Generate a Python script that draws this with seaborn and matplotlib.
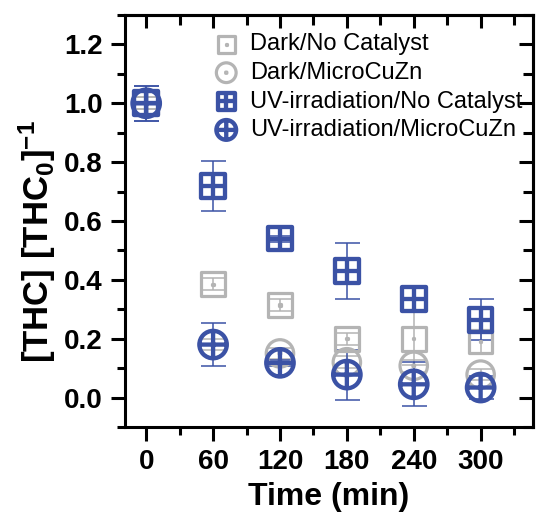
import numpy as np
import pandas as pd
import seaborn as sns
import matplotlib.pyplot as plt
from matplotlib.path import Path
from matplotlib.ticker import MultipleLocator

# ── data ──────────────────────────────────────────────────────────────────
time = [0, 60, 120, 180, 240, 300]

dark_nc = [1.00, 0.385, 0.315, 0.200, 0.200, 0.190]
dark_nc_err = [0.02, 0.02, 0.02, 0.02, 0.09, 0.04]

dark_cat = [1.00, 0.180, 0.150, 0.120, 0.108, 0.078]
dark_cat_err = [0.02, 0.02, 0.02, 0.02, 0.02, 0.02]

uv_nc = [1.00, 0.720, 0.540, 0.430, 0.335, 0.264]
uv_nc_err = [0.06, 0.085, 0.01, 0.095, 0.04, 0.07]

uv_cat = [1.00, 0.180, 0.118, 0.078, 0.045, 0.034]
uv_cat_err = [0.06, 0.072, 0.01, 0.085, 0.075, 0.04]

labels = ["Dark/No Catalyst", "Dark/MicroCuZn",
          "UV-irradiation/No Catalyst", "UV-irradiation/MicroCuZn"]

BLUE = "#3B52A5"
GRAY = "#B4B4B4"

# ── marker shapes (square / circle with a dot or a cross) ─────────────────
M, L = Path.MOVETO, Path.LINETO
square = Path([(-1, -1), (1, -1), (1, 1), (-1, 1), (-1, -1)], [M, L, L, L, Path.CLOSEPOLY])
cross = Path([(-1, 0), (1, 0), (0, -1), (0, 1)], [M, L, M, L])
d = 0.06
dot = Path([(-d, -d), (d, -d), (d, d), (-d, d), (-d, -d)], [M, L, L, L, Path.CLOSEPOLY])
circle = Path.unit_circle()

sq_dot = Path.make_compound_path(square, dot)
ci_dot = Path.make_compound_path(circle, dot)
sq_cross = Path.make_compound_path(square, cross)
ci_cross = Path.make_compound_path(circle, cross)

sns.set_style("ticks")
plt.rcParams['font.family'] = ['Liberation Sans', 'DejaVu Sans']
plt.rcParams['mathtext.fontset'] = 'custom'
plt.rcParams['mathtext.rm'] = 'Liberation Sans:bold'
plt.rcParams['mathtext.bf'] = 'Liberation Sans:bold'
plt.rcParams['mathtext.default'] = 'bf'
for k in ['text.color', 'axes.labelcolor', 'xtick.color', 'ytick.color', 'axes.edgecolor']:
    plt.rcParams[k] = 'black'

fig = plt.figure(figsize=(5.37, 5.19), dpi=100)
ax = fig.add_axes([0.2328, 0.1773, 0.7598, 0.7938])

series = [
    (dark_nc, dark_nc_err, sq_dot, GRAY, 290, 2.3),
    (dark_cat, dark_cat_err, ci_dot, GRAY, 390, 2.3),
    (uv_nc, uv_nc_err, sq_cross, BLUE, 290, 3.1),
    (uv_cat, uv_cat_err, ci_cross, BLUE, 390, 3.1),
]

for (vals, errs, mk, col, size, lw), lab in zip(series, labels):
    df = pd.DataFrame({"time": time, "value": vals, "err": errs})
    ax.errorbar(df["time"], df["value"], yerr=df["err"], fmt="none",
                ecolor=col, elinewidth=1.1, capsize=9, capthick=1.1, zorder=2)
    sns.scatterplot(data=df, x="time", y="value", ax=ax, marker=mk, s=size,
                    facecolor="none", edgecolor=col, linewidth=lw,
                    label=lab, zorder=3)

ax.set_xlim(-19, 347)
ax.set_ylim(-0.1, 1.3)
ax.set_xticks(time)
ax.set_yticks([0.0, 0.2, 0.4, 0.6, 0.8, 1.0, 1.2])
ax.set_yticklabels([f"{v:.1f}" for v in [0.0, 0.2, 0.4, 0.6, 0.8, 1.0, 1.2]])
ax.xaxis.set_minor_locator(MultipleLocator(30))
ax.yaxis.set_minor_locator(MultipleLocator(0.1))

for sp in ax.spines.values():
    sp.set_visible(True)
    sp.set_linewidth(2.2)
    sp.set_color("black")

ax.tick_params(which="major", direction="out", length=10, width=2.2,
               labelsize=20, pad=6)
ax.tick_params(which="minor", direction="out", length=6, width=2.2)
for t in ax.get_xticklabels() + ax.get_yticklabels():
    t.set_fontweight("bold")

# inward ticks on the top and right edges
top = ax.secondary_xaxis("top")
top.set_xticks(time)
top.xaxis.set_minor_locator(MultipleLocator(30))
top.tick_params(which="major", direction="in", length=9, width=2.2, labeltop=False)
top.tick_params(which="minor", direction="in", length=7, width=2.2)
right = ax.secondary_yaxis("right")
right.set_yticks([0.0, 0.2, 0.4, 0.6, 0.8, 1.0, 1.2])
right.yaxis.set_minor_locator(MultipleLocator(0.1))
right.tick_params(which="major", direction="in", length=10, width=2.2, labelright=False)
right.tick_params(which="minor", direction="in", length=7, width=2.2)
for s in (top, right):
    for sp in s.spines.values():
        sp.set_linewidth(2.2)

ax.set_xlabel("Time (min)", fontsize=23, fontweight="bold", labelpad=5)
ax.set_ylabel("[THC] [THC$_0$]$^{-1}$", fontsize=25, fontweight="bold")
ax.yaxis.set_label_coords(-0.165, 0.45)

ax.legend(loc="upper left", bbox_to_anchor=(0.17, 0.99), frameon=False,
          fontsize=17, markerscale=0.72, handletextpad=0.25, labelspacing=0.28,
          borderaxespad=0.2, handlelength=1.5)

fig.savefig("out.png", dpi=100)
